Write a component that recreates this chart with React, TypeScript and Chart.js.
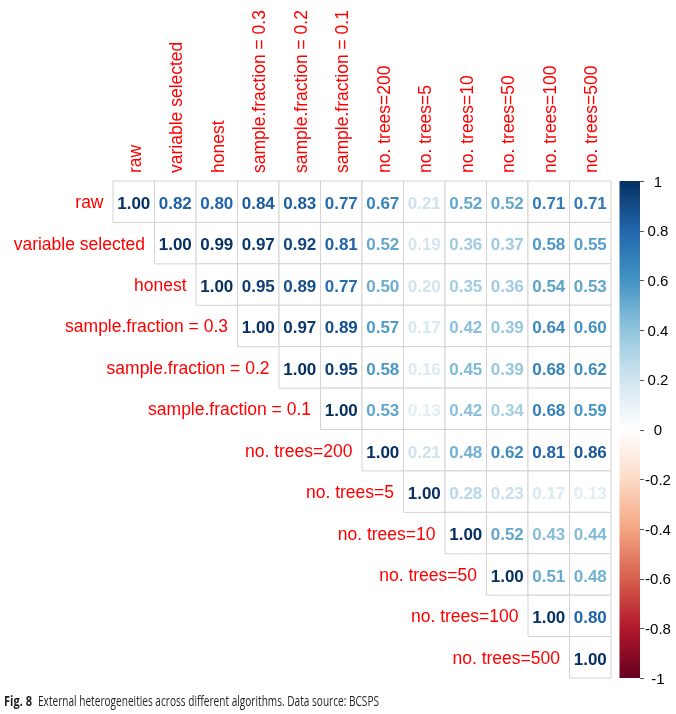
import React, { useEffect, useRef } from 'react';
import { Chart, registerables } from 'chart.js';

Chart.register(...registerables);

// Variable names (rows and columns of the correlation matrix)
const variables = [
  'raw',
  'variable selected',
  'honest',
  'sample.fraction = 0.3',
  'sample.fraction = 0.2',
  'sample.fraction = 0.1',
  'no. trees=200',
  'no. trees=5',
  'no. trees=10',
  'no. trees=50',
  'no. trees=100',
  'no. trees=500',
];

// Upper-triangle values, each row starts at its diagonal
const rowRaw = [1.0, 0.82, 0.8, 0.84, 0.83, 0.77, 0.67, 0.21, 0.52, 0.52, 0.71, 0.71];
const rowVariableSelected = [1.0, 0.99, 0.97, 0.92, 0.81, 0.52, 0.19, 0.36, 0.37, 0.58, 0.55];
const rowHonest = [1.0, 0.95, 0.89, 0.77, 0.5, 0.2, 0.35, 0.36, 0.54, 0.53];
const rowSf03 = [1.0, 0.97, 0.89, 0.57, 0.17, 0.42, 0.39, 0.64, 0.6];
const rowSf02 = [1.0, 0.95, 0.58, 0.16, 0.45, 0.39, 0.68, 0.62];
const rowSf01 = [1.0, 0.53, 0.13, 0.42, 0.34, 0.68, 0.59];
const rowTrees200 = [1.0, 0.21, 0.48, 0.62, 0.81, 0.86];
const rowTrees5 = [1.0, 0.28, 0.23, 0.17, 0.13];
const rowTrees10 = [1.0, 0.52, 0.43, 0.44];
const rowTrees50 = [1.0, 0.51, 0.48];
const rowTrees100 = [1.0, 0.8];
const rowTrees500 = [1.0];

const upperRows = [
  rowRaw, rowVariableSelected, rowHonest, rowSf03, rowSf02, rowSf01,
  rowTrees200, rowTrees5, rowTrees10, rowTrees50, rowTrees100, rowTrees500,
];

// Colour legend
const colorbarTicks = [1, 0.8, 0.6, 0.4, 0.2, 0, -0.2, -0.4, -0.6, -0.8, -1];
const colorbarLabels = ['1', '0.8', '0.6', '0.4', '0.2', '0', '-0.2', '-0.4', '-0.6', '-0.8', '-1'];
// RdBu palette from -1 (index 0) to 1 (last)
const palette = [
  '#67001F', '#B2182B', '#D6604D', '#F4A582', '#FDDBC7', '#FFFFFF',
  '#D1E5F0', '#92C5DE', '#4393C3', '#2166AC', '#053061',
];

const captionBold = 'Fig. 8';
const captionText = 'External heterogeneities across different algorithms. Data source: BCSPS';

function hexToRgb(h: string): number[] {
  return [parseInt(h.slice(1, 3), 16), parseInt(h.slice(3, 5), 16), parseInt(h.slice(5, 7), 16)];
}

function corrColor(v: number): string {
  const t = ((v + 1) / 2) * (palette.length - 1);
  const i = Math.max(0, Math.min(Math.floor(t), palette.length - 2));
  const f = t - i;
  const a = hexToRgb(palette[i]);
  const b = hexToRgb(palette[i + 1]);
  const c = a.map((av, k) => Math.round(av + (b[k] - av) * f));
  return `rgb(${c[0]},${c[1]},${c[2]})`;
}

const LABEL_FONT = '17.5px "Liberation Sans", Arial, sans-serif';
const NUMBER_FONT = 'bold 17px "Liberation Sans", Arial, sans-serif';

const corrPlugin = {
  id: 'corrText',
  afterDatasetsDraw(chart: any) {
    const ctx = chart.ctx as CanvasRenderingContext2D;
    const xs = chart.scales.x;
    const ys = chart.scales.y;
    const cb = chart.scales.cb;
    const area = chart.chartArea;
    const ds = chart.data.datasets[0].data as any[];

    ctx.save();
    // numbers
    ctx.font = NUMBER_FONT;
    ctx.textAlign = 'center';
    ctx.textBaseline = 'alphabetic';
    ds.forEach((p) => {
      ctx.fillStyle = corrColor(p.v);
      ctx.fillText(p.v.toFixed(2), xs.getPixelForValue(p.x), ys.getPixelForValue(p.y) + 7.3);
    });

    // row labels
    ctx.font = LABEL_FONT;
    ctx.fillStyle = '#FF0000';
    ctx.textAlign = 'right';
    variables.forEach((name, i) => {
      ctx.fillText(name, xs.getPixelForValue(i - 0.5) - 9.5, ys.getPixelForValue(i) + 6.5);
    });

    // column labels (rotated)
    ctx.textAlign = 'left';
    variables.forEach((name, j) => {
      ctx.save();
      ctx.translate(xs.getPixelForValue(j) + 7, area.top - 8);
      ctx.rotate(-Math.PI / 2);
      ctx.fillText(name, 0, 0);
      ctx.restore();
    });

    // colour bar
    const barLeft = area.right + 8.5;
    const barRight = area.right + 29;
    const yTop = cb.getPixelForValue(1);
    const yBot = cb.getPixelForValue(-1);
    const grad = ctx.createLinearGradient(0, yTop, 0, yBot);
    palette.forEach((c, k) => {
      grad.addColorStop(1 - k / (palette.length - 1), c);
    });
    ctx.fillStyle = grad;
    ctx.fillRect(barLeft, yTop, barRight - barLeft, yBot - yTop);

    ctx.strokeStyle = '#555';
    ctx.lineWidth = 1;
    ctx.font = '15px "Liberation Sans", Arial, sans-serif';
    ctx.fillStyle = '#000';
    ctx.textAlign = 'center';
    ctx.textBaseline = 'middle';
    colorbarTicks.forEach((t, k) => {
      const y = cb.getPixelForValue(t);
      ctx.beginPath();
      ctx.moveTo(barRight, Math.round(y) + 0.5);
      ctx.lineTo(barRight + 4, Math.round(y) + 0.5);
      ctx.stroke();
      ctx.fillText(colorbarLabels[k], barRight + 18, y + 1.5);
    });

    // caption
    ctx.textAlign = 'left';
    ctx.textBaseline = 'alphabetic';
    ctx.fillStyle = '#231F20';
    ctx.font = 'bold 14px "Liberation Sans Narrow", "Open Sans", sans-serif';
    ctx.fillText(captionBold, 4, 706, 28);
    ctx.font = '14px "Liberation Sans Narrow", "Open Sans", sans-serif';
    ctx.fillText(captionText, 38, 706, 341);
    ctx.restore();
  },
};

export default function App() {
  const canvasRef = useRef<HTMLCanvasElement | null>(null);

  useEffect(() => {
    document.body.style.margin = '0';
    const canvas = canvasRef.current;
    if (!canvas) return;

    const points: { x: number; y: number; v: number }[] = [];
    upperRows.forEach((row, i) => {
      row.forEach((v, k) => {
        points.push({ x: i + k, y: i, v });
      });
    });

    const cellRadius = (ctx: any) => {
      const s = ctx.chart.scales.x;
      return Math.abs(s.getPixelForValue(1) - s.getPixelForValue(0)) / Math.SQRT2;
    };

    const chart = new Chart(canvas, {
      type: 'scatter',
      data: {
        datasets: [
          {
            data: points,
            pointStyle: 'rect',
            pointRadius: cellRadius,
            pointHoverRadius: cellRadius,
            backgroundColor: '#FFFFFF',
            borderColor: '#D3D3D3',
            borderWidth: 1,
            clip: false,
          } as any,
        ],
      },
      options: {
        responsive: false,
        devicePixelRatio: 1,
        animation: false,
        events: [],
        layout: { padding: { left: 113, right: 65, top: 181, bottom: 36 } },
        plugins: { legend: { display: false }, tooltip: { enabled: false } },
        scales: {
          x: { type: 'linear', min: -0.5, max: 11.5, display: false },
          y: { type: 'linear', min: -0.5, max: 11.5, reverse: true, display: false },
          cb: { type: 'linear', axis: 'y', position: 'right', min: -1, max: 1, display: false },
        },
      } as any,
      plugins: [corrPlugin],
    });

    return () => chart.destroy();
  }, []);

  return <canvas ref={canvasRef} width={676} height={714} style={{ display: 'block' }} />;
}
